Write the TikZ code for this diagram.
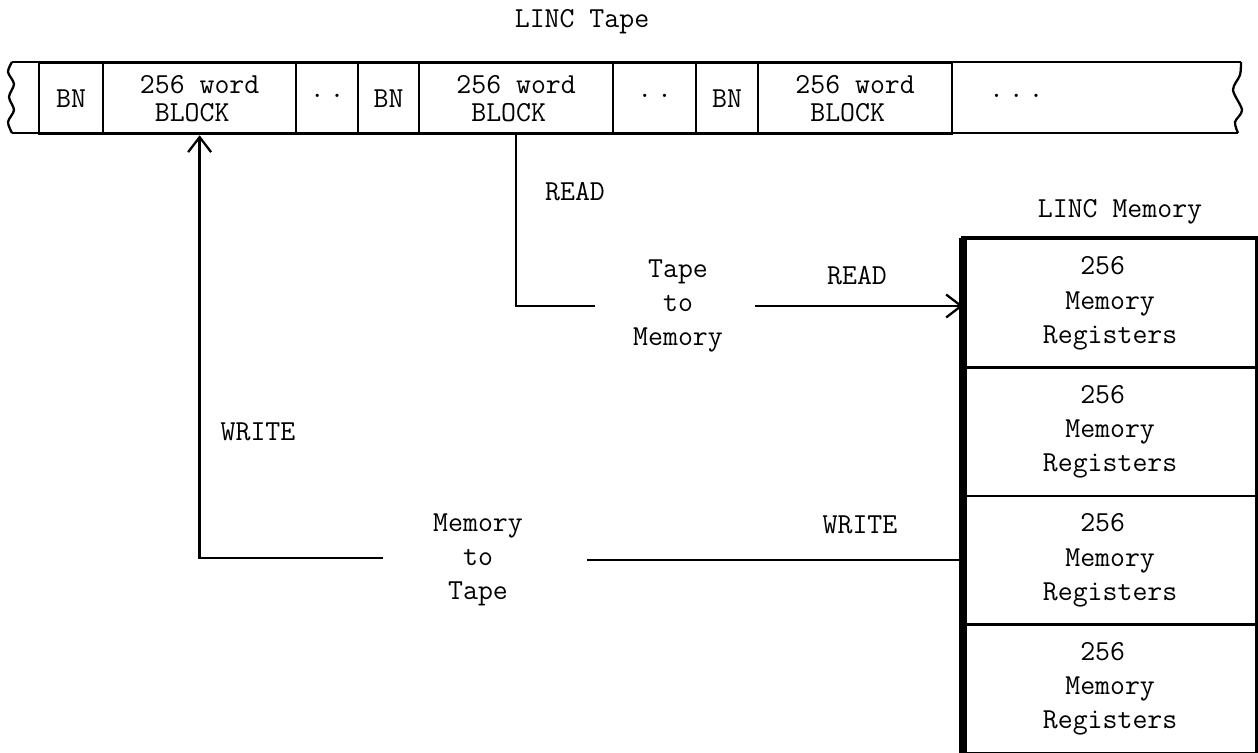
\documentclass[tikz,border=0pt]{standalone}
\usetikzlibrary{arrows.meta}
\newcommand{\twodots}{\raisebox{0.22em}{.\,.}}
\newcommand{\threedots}{\raisebox{0.22em}{.\,.\,.}}
\begin{document}
\begin{tikzpicture}[x=0.02cm,y=-0.02cm,
  lbl/.style={font=\ttfamily\fontsize{16.5}{19.5}\selectfont, inner sep=0pt, align=center},
  cell/.style={draw, line width=1.3pt, anchor=north west, minimum height=1.42cm, inner sep=0pt,
    font=\ttfamily\fontsize{16.5}{15.5}\selectfont, align=left},
  mcell/.style={draw, line width=1.3pt, anchor=north west, minimum width=5.84cm, minimum height=2.57cm,
    inner sep=0pt, font=\ttfamily\fontsize{16.5}{19.5}\selectfont, align=center},
  wire/.style={line width=1.3pt},
  arr/.style={wire, -{Straight Barb[length=0.3cm,width=0.46cm]}}]
\useasboundingbox (0,0) rectangle (1258,753);

% tape
\node[lbl] (title) at (582,22) {LINC Tape};
\node[cell, minimum width=1.28cm] (bn1) at (38,62) {BN};
\node[cell, minimum width=3.86cm] (blk1) at (102,62) {256 word\\\hphantom{X}BLOCK};
\node[cell, minimum width=1.24cm] (dd1) at (295,62) {\twodots};
\node[cell, minimum width=1.22cm] (bn2) at (357,62) {BN};
\node[cell, minimum width=3.88cm] (blk2) at (418,62) {256 word\\\hphantom{X}BLOCK};
\node[cell, minimum width=1.66cm] (dd2) at (612,62) {\twodots};
\node[cell, minimum width=1.24cm] (bn3) at (695,62) {BN};
\node[cell, minimum width=3.88cm] (blk3) at (757,62) {256 word\\\hphantom{X}BLOCK};
\node[cell, draw=none, text width=4.30cm, inner xsep=0.74cm, minimum width=5.78cm] (dd3) at (951,62) {\threedots};
\draw[wire] (12,62) -- (1241,62);
\draw[wire] (12,133) -- (1238,133);
\draw[wire] plot[smooth] coordinates {(12,62) (8,72) (14,84) (9,97) (14,110) (8,122) (12,133)};
\draw[wire] plot[smooth] coordinates {(1241,62) (1240,75) (1233,90) (1242,110) (1235,122) (1238,133)};

% memory
\node[lbl] (memtitle) at (1120,212) {LINC Memory};
\node[mcell] (mem1) at (963,238) {256\hphantom{0}\\Memory\\Registers};
\node[mcell] (mem2) at (963,366.5) {256\hphantom{0}\\Memory\\Registers};
\node[mcell] (mem3) at (963,495) {256\hphantom{0}\\Memory\\Registers};
\node[mcell] (mem4) at (963,623.5) {256\hphantom{0}\\Memory\\Registers};
\draw[line width=2.2pt] (mem1.north west) rectangle (mem4.south east);
\draw[line width=4pt] (mem1.north west) -- (mem4.south west);

% tape to memory
\node[lbl] (read1) at (575,192) {READ};
\node[lbl] (tm) at (678,306) {Tape\\to\\Memory};
\node[lbl] (read2) at (857,276) {READ};
\coordinate (tmL) at (595,306);
\coordinate (tmR) at (755,306);
\draw[wire] (blk2.south) |- (tmL);
\draw[arr] (tmR) -- (tmR -| mem1.west);

% memory to tape
\node[lbl] (write1) at (258,432) {WRITE};
\node[lbl] (mt) at (478,560) {Memory\\to\\Tape};
\node[lbl] (write2) at (860,525) {WRITE};
\coordinate (mtL) at (383,558);
\coordinate (mtR) at (587,560);
\draw[arr] (mtL) -| (blk1.south);
\draw[wire] (mtR) -- (mtR -| mem3.west);
\end{tikzpicture}
\end{document}
